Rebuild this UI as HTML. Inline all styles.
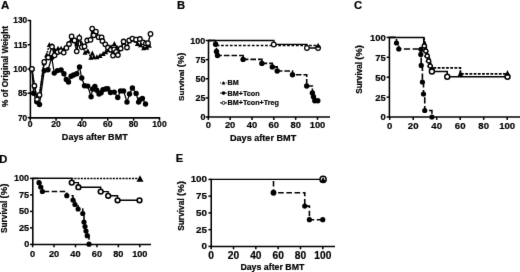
<!DOCTYPE html>
<html><head><meta charset="utf-8"><title>Figure</title>
<style>
html,body{margin:0;padding:0;background:#fff;}
body{width:520px;height:272px;overflow:hidden;font-family:"Liberation Sans",sans-serif;}
svg{display:block;}
</style></head>
<body>
<svg width="520" height="272" viewBox="0 0 520 272">
<defs><filter id="bl" x="0" y="0" width="520" height="272" filterUnits="userSpaceOnUse" color-interpolation-filters="sRGB"><feConvolveMatrix order="3" kernelMatrix="0.0052 0.0619 0.0052 0.0619 0.7314 0.0619 0.0052 0.0619 0.0052" divisor="1" edgeMode="duplicate" preserveAlpha="true"/></filter></defs>
<g filter="url(#bl)">
<rect x="-5" y="-5" width="530" height="282" fill="#fff"/>
<text x="1.0" y="9.2" font-size="11.5" text-anchor="start" font-family="Liberation Sans, sans-serif" font-weight="bold" stroke="#000" stroke-width="0.2">A</text>
<line x1="30.4" y1="19.9" x2="30.4" y2="118.6" stroke="#000" stroke-width="1.55"/>
<line x1="29.65" y1="117.85" x2="160.2" y2="117.85" stroke="#000" stroke-width="1.55"/>
<line x1="27.599999999999998" y1="20.5" x2="30.4" y2="20.5" stroke="#000" stroke-width="1.5"/>
<text x="27.2" y="23.49" font-size="8.3" text-anchor="end" font-family="Liberation Sans, sans-serif" font-weight="bold" stroke="#000" stroke-width="0.2">130</text>
<line x1="27.599999999999998" y1="44.75" x2="30.4" y2="44.75" stroke="#000" stroke-width="1.5"/>
<text x="27.2" y="47.74" font-size="8.3" text-anchor="end" font-family="Liberation Sans, sans-serif" font-weight="bold" stroke="#000" stroke-width="0.2">115</text>
<line x1="27.599999999999998" y1="69" x2="30.4" y2="69" stroke="#000" stroke-width="1.5"/>
<text x="27.2" y="71.99" font-size="8.3" text-anchor="end" font-family="Liberation Sans, sans-serif" font-weight="bold" stroke="#000" stroke-width="0.2">100</text>
<line x1="27.599999999999998" y1="93.25" x2="30.4" y2="93.25" stroke="#000" stroke-width="1.5"/>
<text x="27.2" y="96.24" font-size="8.3" text-anchor="end" font-family="Liberation Sans, sans-serif" font-weight="bold" stroke="#000" stroke-width="0.2">85</text>
<line x1="27.599999999999998" y1="117.6" x2="30.4" y2="117.6" stroke="#000" stroke-width="1.5"/>
<text x="27.2" y="120.59" font-size="8.3" text-anchor="end" font-family="Liberation Sans, sans-serif" font-weight="bold" stroke="#000" stroke-width="0.2">70</text>
<line x1="30.2" y1="117.85" x2="30.2" y2="120.74999999999999" stroke="#000" stroke-width="1.5"/>
<text x="30.2" y="127.1" font-size="8.6" text-anchor="middle" font-family="Liberation Sans, sans-serif" font-weight="bold" stroke="#000" stroke-width="0.2">0</text>
<line x1="56.06" y1="117.85" x2="56.06" y2="120.74999999999999" stroke="#000" stroke-width="1.5"/>
<text x="56.06" y="127.1" font-size="8.6" text-anchor="middle" font-family="Liberation Sans, sans-serif" font-weight="bold" stroke="#000" stroke-width="0.2">20</text>
<line x1="81.92" y1="117.85" x2="81.92" y2="120.74999999999999" stroke="#000" stroke-width="1.5"/>
<text x="81.92" y="127.1" font-size="8.6" text-anchor="middle" font-family="Liberation Sans, sans-serif" font-weight="bold" stroke="#000" stroke-width="0.2">40</text>
<line x1="107.78" y1="117.85" x2="107.78" y2="120.74999999999999" stroke="#000" stroke-width="1.5"/>
<text x="107.78" y="127.1" font-size="8.6" text-anchor="middle" font-family="Liberation Sans, sans-serif" font-weight="bold" stroke="#000" stroke-width="0.2">60</text>
<line x1="133.64" y1="117.85" x2="133.64" y2="120.74999999999999" stroke="#000" stroke-width="1.5"/>
<text x="133.64" y="127.1" font-size="8.6" text-anchor="middle" font-family="Liberation Sans, sans-serif" font-weight="bold" stroke="#000" stroke-width="0.2">80</text>
<line x1="159.5" y1="117.85" x2="159.5" y2="120.74999999999999" stroke="#000" stroke-width="1.5"/>
<text x="159.5" y="127.1" font-size="8.6" text-anchor="middle" font-family="Liberation Sans, sans-serif" font-weight="bold" stroke="#000" stroke-width="0.2">100</text>
<text x="94.8" y="140.2" font-size="9.05" text-anchor="middle" font-family="Liberation Sans, sans-serif" font-weight="bold" stroke="#000" stroke-width="0.2">Days after BMT</text>
<text x="8.3" y="66.5" font-size="8.3" text-anchor="middle" font-family="Liberation Sans, sans-serif" font-weight="bold" transform="rotate(-90 8.3 66.5)" stroke="#000" stroke-width="0.2">% of Original Weight</text>
<path d="M31.90,69.00 L34.50,86.00 L37.00,99.00 L39.50,95.00 L44.00,63.00 L46.60,55.00 L49.30,44.80 L52.00,45.50 L54.90,50.30 L58.00,48.50 L61.10,48.50 L63.60,50.00 L66.50,47.00 L69.00,44.00 L71.50,40.00 L74.50,41.00 L76.80,44.00 L79.30,36.20 L82.00,44.00 L85.00,52.50 L87.80,51.00 L90.80,57.60 L92.30,53.20 L93.80,57.00 L96.90,57.00 L100.00,55.70 L103.10,53.80 L105.70,52.00 L108.50,50.00 L111.00,47.00 L114.40,43.80 L117.00,47.50 L120.70,48.50 L123.60,42.50 L127.00,47.30 L129.25,41.00 L132.40,39.60 L136.00,40.60 L137.40,43.80 L140.50,45.00 L143.60,48.00 L146.75,47.50 L149.30,45.60" fill="none" stroke="#000" stroke-width="1.5" stroke-dasharray="1.8 1.0" stroke-linejoin="miter"/>
<path d="M31.90,69.00 L33.60,93.25 L36.75,101.75 L39.50,104.50 L44.25,70.60 L48.00,69.75 L51.75,57.50 L54.25,73.10 L57.40,70.60 L61.10,70.00 L63.90,73.75 L66.30,79.50 L68.50,82.00 L71.10,76.25 L73.60,75.00 L76.75,73.75 L79.50,66.90 L81.75,78.00 L84.50,85.75 L87.75,86.10 L91.10,96.75 L92.60,89.00 L94.90,86.50 L96.75,90.25 L99.00,94.00 L101.10,92.75 L103.00,89.60 L105.50,89.00 L107.75,88.75 L110.50,92.50 L114.25,92.10 L117.75,97.50 L120.50,90.90 L123.60,90.90 L127.00,102.10 L129.50,94.00 L132.40,88.00 L136.10,93.40 L138.60,102.10 L140.25,99.60 L142.40,98.40 L145.50,104.00" fill="none" stroke="#000" stroke-width="1.25" stroke-linejoin="miter"/>
<path d="M31.90,68.90 L34.40,85.75 L37.00,99.25 L39.50,94.90 L44.25,61.90 L48.25,57.50 L52.00,46.75 L54.60,55.30 L57.60,52.00 L60.75,51.00 L63.70,52.60 L66.40,47.90 L69.00,44.00 L71.60,36.40 L74.50,40.40 L76.70,51.30 L79.30,37.90 L81.75,47.10 L84.50,46.40 L87.20,40.50 L90.50,39.80 L92.20,28.70 L93.80,35.25 L95.90,31.70 L98.60,37.20 L101.60,37.30 L102.40,41.00 L105.30,44.30 L107.90,47.50 L110.80,49.75 L113.00,55.60 L114.10,49.40 L116.10,51.90 L117.90,55.00 L120.70,48.50 L123.60,41.50 L127.00,47.50 L129.25,40.40 L132.40,38.60 L136.00,39.70 L139.90,39.00 L143.00,42.30 L145.90,43.40 L148.00,43.20 L150.50,33.90" fill="none" stroke="#000" stroke-width="1.4" stroke-linejoin="miter"/>
<path d="M29.40,71.25 L34.40,71.25 L31.90,66.25 Z" fill="#000"/>
<path d="M32.00,88.25 L37.00,88.25 L34.50,83.25 Z" fill="#000"/>
<path d="M34.50,101.25 L39.50,101.25 L37.00,96.25 Z" fill="#000"/>
<path d="M37.00,97.25 L42.00,97.25 L39.50,92.25 Z" fill="#000"/>
<path d="M41.50,65.25 L46.50,65.25 L44.00,60.25 Z" fill="#000"/>
<path d="M44.10,57.25 L49.10,57.25 L46.60,52.25 Z" fill="#000"/>
<path d="M46.80,47.05 L51.80,47.05 L49.30,42.05 Z" fill="#000"/>
<path d="M49.50,47.75 L54.50,47.75 L52.00,42.75 Z" fill="#000"/>
<path d="M52.40,52.55 L57.40,52.55 L54.90,47.55 Z" fill="#000"/>
<path d="M55.50,50.75 L60.50,50.75 L58.00,45.75 Z" fill="#000"/>
<path d="M58.60,50.75 L63.60,50.75 L61.10,45.75 Z" fill="#000"/>
<path d="M61.10,52.25 L66.10,52.25 L63.60,47.25 Z" fill="#000"/>
<path d="M64.00,49.25 L69.00,49.25 L66.50,44.25 Z" fill="#000"/>
<path d="M66.50,46.25 L71.50,46.25 L69.00,41.25 Z" fill="#000"/>
<path d="M69.00,42.25 L74.00,42.25 L71.50,37.25 Z" fill="#000"/>
<path d="M72.00,43.25 L77.00,43.25 L74.50,38.25 Z" fill="#000"/>
<path d="M74.30,46.25 L79.30,46.25 L76.80,41.25 Z" fill="#000"/>
<path d="M76.80,38.45 L81.80,38.45 L79.30,33.45 Z" fill="#000"/>
<path d="M79.50,46.25 L84.50,46.25 L82.00,41.25 Z" fill="#000"/>
<path d="M82.50,54.75 L87.50,54.75 L85.00,49.75 Z" fill="#000"/>
<path d="M85.30,53.25 L90.30,53.25 L87.80,48.25 Z" fill="#000"/>
<path d="M88.30,59.85 L93.30,59.85 L90.80,54.85 Z" fill="#000"/>
<path d="M89.80,55.45 L94.80,55.45 L92.30,50.45 Z" fill="#000"/>
<path d="M91.30,59.25 L96.30,59.25 L93.80,54.25 Z" fill="#000"/>
<path d="M94.40,59.25 L99.40,59.25 L96.90,54.25 Z" fill="#000"/>
<path d="M97.50,57.95 L102.50,57.95 L100.00,52.95 Z" fill="#000"/>
<path d="M100.60,56.05 L105.60,56.05 L103.10,51.05 Z" fill="#000"/>
<path d="M103.20,54.25 L108.20,54.25 L105.70,49.25 Z" fill="#000"/>
<path d="M106.00,52.25 L111.00,52.25 L108.50,47.25 Z" fill="#000"/>
<path d="M108.50,49.25 L113.50,49.25 L111.00,44.25 Z" fill="#000"/>
<path d="M111.90,46.05 L116.90,46.05 L114.40,41.05 Z" fill="#000"/>
<path d="M114.50,49.75 L119.50,49.75 L117.00,44.75 Z" fill="#000"/>
<path d="M118.20,50.75 L123.20,50.75 L120.70,45.75 Z" fill="#000"/>
<path d="M121.10,44.75 L126.10,44.75 L123.60,39.75 Z" fill="#000"/>
<path d="M124.50,49.55 L129.50,49.55 L127.00,44.55 Z" fill="#000"/>
<path d="M126.75,43.25 L131.75,43.25 L129.25,38.25 Z" fill="#000"/>
<path d="M129.90,41.85 L134.90,41.85 L132.40,36.85 Z" fill="#000"/>
<path d="M133.50,42.85 L138.50,42.85 L136.00,37.85 Z" fill="#000"/>
<path d="M134.90,46.05 L139.90,46.05 L137.40,41.05 Z" fill="#000"/>
<path d="M138.00,47.25 L143.00,47.25 L140.50,42.25 Z" fill="#000"/>
<path d="M141.10,50.25 L146.10,50.25 L143.60,45.25 Z" fill="#000"/>
<path d="M144.25,49.75 L149.25,49.75 L146.75,44.75 Z" fill="#000"/>
<path d="M146.80,47.85 L151.80,47.85 L149.30,42.85 Z" fill="#000"/>
<circle cx="31.90" cy="69.00" r="2.7" fill="#000"/>
<circle cx="33.60" cy="93.25" r="2.7" fill="#000"/>
<circle cx="36.75" cy="101.75" r="2.7" fill="#000"/>
<circle cx="39.50" cy="104.50" r="2.7" fill="#000"/>
<circle cx="44.25" cy="70.60" r="2.7" fill="#000"/>
<circle cx="48.00" cy="69.75" r="2.7" fill="#000"/>
<circle cx="51.75" cy="57.50" r="2.7" fill="#000"/>
<circle cx="54.25" cy="73.10" r="2.7" fill="#000"/>
<circle cx="57.40" cy="70.60" r="2.7" fill="#000"/>
<circle cx="61.10" cy="70.00" r="2.7" fill="#000"/>
<circle cx="63.90" cy="73.75" r="2.7" fill="#000"/>
<circle cx="66.30" cy="79.50" r="2.7" fill="#000"/>
<circle cx="68.50" cy="82.00" r="2.7" fill="#000"/>
<circle cx="71.10" cy="76.25" r="2.7" fill="#000"/>
<circle cx="73.60" cy="75.00" r="2.7" fill="#000"/>
<circle cx="76.75" cy="73.75" r="2.7" fill="#000"/>
<circle cx="79.50" cy="66.90" r="2.7" fill="#000"/>
<circle cx="81.75" cy="78.00" r="2.7" fill="#000"/>
<circle cx="84.50" cy="85.75" r="2.7" fill="#000"/>
<circle cx="87.75" cy="86.10" r="2.7" fill="#000"/>
<circle cx="91.10" cy="96.75" r="2.7" fill="#000"/>
<circle cx="92.60" cy="89.00" r="2.7" fill="#000"/>
<circle cx="94.90" cy="86.50" r="2.7" fill="#000"/>
<circle cx="96.75" cy="90.25" r="2.7" fill="#000"/>
<circle cx="99.00" cy="94.00" r="2.7" fill="#000"/>
<circle cx="101.10" cy="92.75" r="2.7" fill="#000"/>
<circle cx="103.00" cy="89.60" r="2.7" fill="#000"/>
<circle cx="105.50" cy="89.00" r="2.7" fill="#000"/>
<circle cx="107.75" cy="88.75" r="2.7" fill="#000"/>
<circle cx="110.50" cy="92.50" r="2.7" fill="#000"/>
<circle cx="114.25" cy="92.10" r="2.7" fill="#000"/>
<circle cx="117.75" cy="97.50" r="2.7" fill="#000"/>
<circle cx="120.50" cy="90.90" r="2.7" fill="#000"/>
<circle cx="123.60" cy="90.90" r="2.7" fill="#000"/>
<circle cx="127.00" cy="102.10" r="2.7" fill="#000"/>
<circle cx="129.50" cy="94.00" r="2.7" fill="#000"/>
<circle cx="132.40" cy="88.00" r="2.7" fill="#000"/>
<circle cx="136.10" cy="93.40" r="2.7" fill="#000"/>
<circle cx="138.60" cy="102.10" r="2.7" fill="#000"/>
<circle cx="140.25" cy="99.60" r="2.7" fill="#000"/>
<circle cx="142.40" cy="98.40" r="2.7" fill="#000"/>
<circle cx="145.50" cy="104.00" r="2.7" fill="#000"/>
<circle cx="31.90" cy="68.90" r="2.25" fill="#fff" stroke="#000" stroke-width="1.3"/>
<circle cx="34.40" cy="85.75" r="2.25" fill="#fff" stroke="#000" stroke-width="1.3"/>
<circle cx="37.00" cy="99.25" r="2.25" fill="#fff" stroke="#000" stroke-width="1.3"/>
<circle cx="39.50" cy="94.90" r="2.25" fill="#fff" stroke="#000" stroke-width="1.3"/>
<circle cx="44.25" cy="61.90" r="2.25" fill="#fff" stroke="#000" stroke-width="1.3"/>
<circle cx="48.25" cy="57.50" r="2.25" fill="#fff" stroke="#000" stroke-width="1.3"/>
<circle cx="52.00" cy="46.75" r="2.25" fill="#fff" stroke="#000" stroke-width="1.3"/>
<circle cx="54.60" cy="55.30" r="2.25" fill="#fff" stroke="#000" stroke-width="1.3"/>
<circle cx="57.60" cy="52.00" r="2.25" fill="#fff" stroke="#000" stroke-width="1.3"/>
<circle cx="60.75" cy="51.00" r="2.25" fill="#fff" stroke="#000" stroke-width="1.3"/>
<circle cx="63.70" cy="52.60" r="2.25" fill="#fff" stroke="#000" stroke-width="1.3"/>
<circle cx="66.40" cy="47.90" r="2.25" fill="#fff" stroke="#000" stroke-width="1.3"/>
<circle cx="69.00" cy="44.00" r="2.25" fill="#fff" stroke="#000" stroke-width="1.3"/>
<circle cx="71.60" cy="36.40" r="2.25" fill="#fff" stroke="#000" stroke-width="1.3"/>
<circle cx="74.50" cy="40.40" r="2.25" fill="#fff" stroke="#000" stroke-width="1.3"/>
<circle cx="76.70" cy="51.30" r="2.25" fill="#fff" stroke="#000" stroke-width="1.3"/>
<circle cx="79.30" cy="37.90" r="2.25" fill="#fff" stroke="#000" stroke-width="1.3"/>
<circle cx="81.75" cy="47.10" r="2.25" fill="#fff" stroke="#000" stroke-width="1.3"/>
<circle cx="84.50" cy="46.40" r="2.25" fill="#fff" stroke="#000" stroke-width="1.3"/>
<circle cx="87.20" cy="40.50" r="2.25" fill="#fff" stroke="#000" stroke-width="1.3"/>
<circle cx="90.50" cy="39.80" r="2.25" fill="#fff" stroke="#000" stroke-width="1.3"/>
<circle cx="92.20" cy="28.70" r="2.25" fill="#fff" stroke="#000" stroke-width="1.3"/>
<circle cx="95.90" cy="31.70" r="2.25" fill="#fff" stroke="#000" stroke-width="1.3"/>
<circle cx="93.80" cy="35.25" r="2.25" fill="#fff" stroke="#000" stroke-width="1.3"/>
<circle cx="98.60" cy="37.20" r="2.25" fill="#fff" stroke="#000" stroke-width="1.3"/>
<circle cx="101.60" cy="37.30" r="2.25" fill="#fff" stroke="#000" stroke-width="1.3"/>
<circle cx="102.40" cy="41.00" r="2.25" fill="#fff" stroke="#000" stroke-width="1.3"/>
<circle cx="105.30" cy="44.30" r="2.25" fill="#fff" stroke="#000" stroke-width="1.3"/>
<circle cx="107.90" cy="47.50" r="2.25" fill="#fff" stroke="#000" stroke-width="1.3"/>
<circle cx="110.80" cy="49.75" r="2.25" fill="#fff" stroke="#000" stroke-width="1.3"/>
<circle cx="114.10" cy="49.40" r="2.25" fill="#fff" stroke="#000" stroke-width="1.3"/>
<circle cx="113.00" cy="55.60" r="2.25" fill="#fff" stroke="#000" stroke-width="1.3"/>
<circle cx="116.10" cy="51.90" r="2.25" fill="#fff" stroke="#000" stroke-width="1.3"/>
<circle cx="117.90" cy="55.00" r="2.25" fill="#fff" stroke="#000" stroke-width="1.3"/>
<circle cx="120.70" cy="48.50" r="2.25" fill="#fff" stroke="#000" stroke-width="1.3"/>
<circle cx="123.60" cy="41.50" r="2.25" fill="#fff" stroke="#000" stroke-width="1.3"/>
<circle cx="127.00" cy="47.50" r="2.25" fill="#fff" stroke="#000" stroke-width="1.3"/>
<circle cx="129.25" cy="40.40" r="2.25" fill="#fff" stroke="#000" stroke-width="1.3"/>
<circle cx="132.40" cy="38.60" r="2.25" fill="#fff" stroke="#000" stroke-width="1.3"/>
<circle cx="136.00" cy="39.70" r="2.25" fill="#fff" stroke="#000" stroke-width="1.3"/>
<circle cx="139.90" cy="39.00" r="2.25" fill="#fff" stroke="#000" stroke-width="1.3"/>
<circle cx="143.00" cy="42.30" r="2.25" fill="#fff" stroke="#000" stroke-width="1.3"/>
<circle cx="145.90" cy="43.40" r="2.25" fill="#fff" stroke="#000" stroke-width="1.3"/>
<circle cx="148.00" cy="43.20" r="2.25" fill="#fff" stroke="#000" stroke-width="1.3"/>
<circle cx="150.50" cy="33.90" r="2.25" fill="#fff" stroke="#000" stroke-width="1.3"/>
<text x="176.9" y="8.5" font-size="11.2" text-anchor="start" font-family="Liberation Sans, sans-serif" font-weight="bold" stroke="#000" stroke-width="0.2">B</text>
<line x1="208.5" y1="39.9" x2="208.5" y2="117.75" stroke="#000" stroke-width="1.55"/>
<line x1="207.75" y1="117" x2="330" y2="117" stroke="#000" stroke-width="1.55"/>
<line x1="205.7" y1="40.5" x2="208.5" y2="40.5" stroke="#000" stroke-width="1.5"/>
<text x="205.4" y="43.74" font-size="9" text-anchor="end" font-family="Liberation Sans, sans-serif" font-weight="bold" stroke="#000" stroke-width="0.2">100</text>
<line x1="205.7" y1="59.6" x2="208.5" y2="59.6" stroke="#000" stroke-width="1.5"/>
<text x="205.4" y="62.84" font-size="9" text-anchor="end" font-family="Liberation Sans, sans-serif" font-weight="bold" stroke="#000" stroke-width="0.2">75</text>
<line x1="205.7" y1="78.75" x2="208.5" y2="78.75" stroke="#000" stroke-width="1.5"/>
<text x="205.4" y="81.99" font-size="9" text-anchor="end" font-family="Liberation Sans, sans-serif" font-weight="bold" stroke="#000" stroke-width="0.2">50</text>
<line x1="205.7" y1="97.9" x2="208.5" y2="97.9" stroke="#000" stroke-width="1.5"/>
<text x="205.4" y="101.14" font-size="9" text-anchor="end" font-family="Liberation Sans, sans-serif" font-weight="bold" stroke="#000" stroke-width="0.2">25</text>
<line x1="205.7" y1="117" x2="208.5" y2="117" stroke="#000" stroke-width="1.5"/>
<text x="205.4" y="120.24" font-size="9" text-anchor="end" font-family="Liberation Sans, sans-serif" font-weight="bold" stroke="#000" stroke-width="0.2">0</text>
<line x1="208.3" y1="117" x2="208.3" y2="119.89999999999999" stroke="#000" stroke-width="1.5"/>
<text x="208.3" y="128.1" font-size="9.4" text-anchor="middle" font-family="Liberation Sans, sans-serif" font-weight="bold" stroke="#000" stroke-width="0.2">0</text>
<line x1="230.14000000000001" y1="117" x2="230.14000000000001" y2="119.89999999999999" stroke="#000" stroke-width="1.5"/>
<text x="230.14" y="128.1" font-size="9.4" text-anchor="middle" font-family="Liberation Sans, sans-serif" font-weight="bold" stroke="#000" stroke-width="0.2">20</text>
<line x1="251.98000000000002" y1="117" x2="251.98000000000002" y2="119.89999999999999" stroke="#000" stroke-width="1.5"/>
<text x="251.98" y="128.1" font-size="9.4" text-anchor="middle" font-family="Liberation Sans, sans-serif" font-weight="bold" stroke="#000" stroke-width="0.2">40</text>
<line x1="273.82" y1="117" x2="273.82" y2="119.89999999999999" stroke="#000" stroke-width="1.5"/>
<text x="273.82" y="128.1" font-size="9.4" text-anchor="middle" font-family="Liberation Sans, sans-serif" font-weight="bold" stroke="#000" stroke-width="0.2">60</text>
<line x1="295.66" y1="117" x2="295.66" y2="119.89999999999999" stroke="#000" stroke-width="1.5"/>
<text x="295.66" y="128.1" font-size="9.4" text-anchor="middle" font-family="Liberation Sans, sans-serif" font-weight="bold" stroke="#000" stroke-width="0.2">80</text>
<line x1="317.5" y1="117" x2="317.5" y2="119.89999999999999" stroke="#000" stroke-width="1.5"/>
<text x="317.5" y="128.1" font-size="9.4" text-anchor="middle" font-family="Liberation Sans, sans-serif" font-weight="bold" stroke="#000" stroke-width="0.2">100</text>
<text x="263.1" y="140.5" font-size="9.1" text-anchor="middle" font-family="Liberation Sans, sans-serif" font-weight="bold" stroke="#000" stroke-width="0.2">Days after BMT</text>
<text x="184.2" y="76.8" font-size="8.1" text-anchor="middle" font-family="Liberation Sans, sans-serif" font-weight="bold" transform="rotate(-90 184.2 76.8)" stroke="#000" stroke-width="0.2">Survival <tspan font-size="9.3">(%)</tspan></text>
<path d="M208.50,40.50 L215.60,40.50 L215.60,45.50 L318.00,45.50" fill="none" stroke="#000" stroke-width="1.7" stroke-dasharray="2.7 1.7" stroke-linejoin="miter"/>
<path d="M208.50,40.50 L273.90,40.50 L273.90,44.40 L306.90,44.40 L306.90,48.00 L318.10,48.00" fill="none" stroke="#000" stroke-width="1.4" stroke-linejoin="miter"/>
<path d="M208.50,40.50 L215.60,40.50 L215.60,44.25 L216.50,44.25 L216.50,51.50 L217.50,51.50 L217.50,55.50 L243.10,55.50 L243.10,59.40 L261.90,59.40 L261.90,63.40 L272.30,63.40 L272.30,66.90 L277.20,66.90 L277.20,71.00 L292.50,71.00 L292.50,74.75 L306.70,74.75 L306.70,86.00 L312.40,86.00 L312.40,93.00 L313.50,93.00 L313.50,96.70 L314.80,96.70 L314.80,100.75 L317.80,100.75" fill="none" stroke="#000" stroke-width="1.6" stroke-dasharray="5.6 2" stroke-linejoin="miter"/>
<circle cx="215.60" cy="44.25" r="2.7" fill="#000"/>
<circle cx="216.50" cy="51.50" r="2.7" fill="#000"/>
<circle cx="217.50" cy="55.50" r="2.7" fill="#000"/>
<circle cx="243.10" cy="59.40" r="2.7" fill="#000"/>
<circle cx="261.90" cy="63.40" r="2.7" fill="#000"/>
<circle cx="272.30" cy="66.90" r="2.7" fill="#000"/>
<circle cx="277.20" cy="71.00" r="2.7" fill="#000"/>
<circle cx="292.50" cy="74.75" r="2.7" fill="#000"/>
<circle cx="306.70" cy="86.00" r="2.7" fill="#000"/>
<circle cx="312.40" cy="93.00" r="2.7" fill="#000"/>
<circle cx="313.50" cy="96.70" r="2.7" fill="#000"/>
<circle cx="314.80" cy="100.75" r="2.7" fill="#000"/>
<circle cx="317.80" cy="100.75" r="2.7" fill="#000"/>
<circle cx="273.75" cy="44.50" r="2.3" fill="#fff" stroke="#000" stroke-width="1.2"/>
<circle cx="306.90" cy="48.00" r="2.3" fill="#fff" stroke="#000" stroke-width="1.2"/>
<circle cx="318.10" cy="48.00" r="2.3" fill="#fff" stroke="#000" stroke-width="1.2"/>
<path d="M315.60,47.85 L320.60,47.85 L318.10,42.85 Z" fill="#000"/>
<text x="227.6" y="85.4" font-size="7.2" text-anchor="start" font-family="Liberation Sans, sans-serif" font-weight="bold" stroke="#000" stroke-width="0.2">BM</text>
<line x1="220" y1="82.9" x2="227" y2="82.9" stroke="#000" stroke-width="0.9" stroke-dasharray="1 0.9"/>
<path d="M221.70,84.52 L225.30,84.52 L223.50,80.92 Z" fill="#000"/>
<text x="227.6" y="95.6" font-size="7.2" text-anchor="start" font-family="Liberation Sans, sans-serif" font-weight="bold" stroke="#000" stroke-width="0.2">BM+Tcon</text>
<line x1="220" y1="93.1" x2="227" y2="93.1" stroke="#000" stroke-width="0.9"/>
<circle cx="223.50" cy="93.10" r="1.8" fill="#000"/>
<text x="227.6" y="105.4" font-size="7.2" text-anchor="start" font-family="Liberation Sans, sans-serif" font-weight="bold" stroke="#000" stroke-width="0.2">BM+Tcon+Treg</text>
<line x1="220" y1="102.9" x2="227" y2="102.9" stroke="#000" stroke-width="0.9"/>
<circle cx="223.50" cy="102.90" r="1.5" fill="#fff" stroke="#000" stroke-width="0.9"/>
<text x="354.0" y="8.5" font-size="11.2" text-anchor="start" font-family="Liberation Sans, sans-serif" font-weight="bold" stroke="#000" stroke-width="0.2">C</text>
<line x1="389.4" y1="36.8" x2="389.4" y2="117.75" stroke="#000" stroke-width="1.55"/>
<line x1="388.65" y1="117" x2="520" y2="117" stroke="#000" stroke-width="1.55"/>
<line x1="386.59999999999997" y1="37.4" x2="389.4" y2="37.4" stroke="#000" stroke-width="1.5"/>
<text x="385.8" y="40.82" font-size="9.5" text-anchor="end" font-family="Liberation Sans, sans-serif" font-weight="bold" stroke="#000" stroke-width="0.2">100</text>
<line x1="386.59999999999997" y1="57.3" x2="389.4" y2="57.3" stroke="#000" stroke-width="1.5"/>
<text x="385.8" y="60.72" font-size="9.5" text-anchor="end" font-family="Liberation Sans, sans-serif" font-weight="bold" stroke="#000" stroke-width="0.2">75</text>
<line x1="386.59999999999997" y1="77.2" x2="389.4" y2="77.2" stroke="#000" stroke-width="1.5"/>
<text x="385.8" y="80.62" font-size="9.5" text-anchor="end" font-family="Liberation Sans, sans-serif" font-weight="bold" stroke="#000" stroke-width="0.2">50</text>
<line x1="386.59999999999997" y1="97.1" x2="389.4" y2="97.1" stroke="#000" stroke-width="1.5"/>
<text x="385.8" y="100.52" font-size="9.5" text-anchor="end" font-family="Liberation Sans, sans-serif" font-weight="bold" stroke="#000" stroke-width="0.2">25</text>
<line x1="386.59999999999997" y1="117" x2="389.4" y2="117" stroke="#000" stroke-width="1.5"/>
<text x="385.8" y="120.42" font-size="9.5" text-anchor="end" font-family="Liberation Sans, sans-serif" font-weight="bold" stroke="#000" stroke-width="0.2">0</text>
<line x1="389.7" y1="117" x2="389.7" y2="119.89999999999999" stroke="#000" stroke-width="1.5"/>
<text x="389.7" y="128.6" font-size="9.6" text-anchor="middle" font-family="Liberation Sans, sans-serif" font-weight="bold" stroke="#000" stroke-width="0.2">0</text>
<line x1="413.2" y1="117" x2="413.2" y2="119.89999999999999" stroke="#000" stroke-width="1.5"/>
<text x="413.2" y="128.6" font-size="9.6" text-anchor="middle" font-family="Liberation Sans, sans-serif" font-weight="bold" stroke="#000" stroke-width="0.2">20</text>
<line x1="436.7" y1="117" x2="436.7" y2="119.89999999999999" stroke="#000" stroke-width="1.5"/>
<text x="436.7" y="128.6" font-size="9.6" text-anchor="middle" font-family="Liberation Sans, sans-serif" font-weight="bold" stroke="#000" stroke-width="0.2">40</text>
<line x1="460.2" y1="117" x2="460.2" y2="119.89999999999999" stroke="#000" stroke-width="1.5"/>
<text x="460.2" y="128.6" font-size="9.6" text-anchor="middle" font-family="Liberation Sans, sans-serif" font-weight="bold" stroke="#000" stroke-width="0.2">60</text>
<line x1="483.7" y1="117" x2="483.7" y2="119.89999999999999" stroke="#000" stroke-width="1.5"/>
<text x="483.7" y="128.6" font-size="9.6" text-anchor="middle" font-family="Liberation Sans, sans-serif" font-weight="bold" stroke="#000" stroke-width="0.2">80</text>
<line x1="507.2" y1="117" x2="507.2" y2="119.89999999999999" stroke="#000" stroke-width="1.5"/>
<text x="507.2" y="128.6" font-size="9.6" text-anchor="middle" font-family="Liberation Sans, sans-serif" font-weight="bold" stroke="#000" stroke-width="0.2">100</text>
<text x="361.6" y="69.5" font-size="8.2" text-anchor="middle" font-family="Liberation Sans, sans-serif" font-weight="bold" transform="rotate(-90 361.6 69.5)" stroke="#000" stroke-width="0.2">Survival <tspan font-size="9.3">(%)</tspan></text>
<path d="M389.40,37.40 L423.75,37.40 L423.75,46.00 L424.30,46.00 L425.80,46.00 L425.80,51.00 L427.20,51.00 L427.20,56.00 L428.70,56.00 L428.70,61.00 L430.20,61.00 L430.20,66.00 L431.90,66.00 L431.90,71.40 L447.25,71.40 L447.25,76.80 L507.50,76.80" fill="none" stroke="#000" stroke-width="1.55" stroke-linejoin="miter"/>
<path d="M423.75,37.40 L425.30,44.50 L426.90,49.50 L428.30,54.50 L429.80,59.50 L431.30,67.90 L460.40,67.90 L460.40,73.90 L507.50,73.90" fill="none" stroke="#000" stroke-width="1.75" stroke-dasharray="2.8 1.4" stroke-linejoin="miter"/>
<path d="M389.40,37.40 L396.50,37.40 L396.50,43.00 L398.75,43.00 L398.75,49.00 L421.00,49.00 L421.00,49.30 L420.80,49.30 L420.80,54.40 L421.20,54.40 L421.20,65.40 L422.40,65.40 L422.40,82.00 L423.50,82.00 L423.50,94.00 L424.75,94.00 L424.75,110.50 L431.90,110.50 L431.90,117.00" fill="none" stroke="#000" stroke-width="1.6" stroke-dasharray="6.2 2.5" stroke-linejoin="miter"/>
<circle cx="396.50" cy="43.00" r="2.6" fill="#000"/>
<circle cx="398.75" cy="49.00" r="2.6" fill="#000"/>
<circle cx="421.00" cy="49.30" r="2.6" fill="#000"/>
<circle cx="420.80" cy="54.40" r="2.6" fill="#000"/>
<circle cx="421.20" cy="65.40" r="2.6" fill="#000"/>
<circle cx="422.40" cy="82.00" r="2.6" fill="#000"/>
<circle cx="423.50" cy="94.00" r="2.6" fill="#000"/>
<circle cx="424.75" cy="110.50" r="2.6" fill="#000"/>
<circle cx="431.90" cy="117.00" r="2.6" fill="#000"/>
<path d="M421.30,46.20 L427.50,46.20 L424.40,40.20 Z" fill="#000"/>
<path d="M422.50,52.00 L428.70,52.00 L425.60,46.00 Z" fill="#000"/>
<path d="M423.90,57.00 L430.10,57.00 L427.00,51.00 Z" fill="#000"/>
<path d="M425.30,62.00 L431.50,62.00 L428.40,56.00 Z" fill="#000"/>
<path d="M426.90,67.00 L433.10,67.00 L430.00,61.00 Z" fill="#000"/>
<path d="M428.70,70.20 L434.90,70.20 L431.80,64.20 Z" fill="#000"/>
<circle cx="424.30" cy="46.00" r="2.0" fill="#fff" stroke="#000" stroke-width="1.3"/>
<circle cx="425.80" cy="51.00" r="2.0" fill="#fff" stroke="#000" stroke-width="1.3"/>
<circle cx="427.20" cy="56.00" r="2.0" fill="#fff" stroke="#000" stroke-width="1.3"/>
<circle cx="428.70" cy="61.00" r="2.0" fill="#fff" stroke="#000" stroke-width="1.3"/>
<circle cx="430.20" cy="66.00" r="2.0" fill="#fff" stroke="#000" stroke-width="1.3"/>
<circle cx="431.90" cy="71.40" r="2.5" fill="#fff" stroke="#000" stroke-width="1.5"/>
<circle cx="447.25" cy="76.80" r="2.5" fill="#fff" stroke="#000" stroke-width="1.5"/>
<circle cx="507.50" cy="76.80" r="2.5" fill="#fff" stroke="#000" stroke-width="1.5"/>
<path d="M457.80,76.01 L463.00,76.01 L460.40,70.21 Z" fill="#000"/>
<path d="M504.90,75.72 L510.10,75.72 L507.50,70.12 Z" fill="#000"/>
<text x="-0.8" y="162.5" font-size="11.2" text-anchor="start" font-family="Liberation Sans, sans-serif" font-weight="bold" stroke="#000" stroke-width="0.2">D</text>
<line x1="32.8" y1="177.8" x2="32.8" y2="245.15" stroke="#000" stroke-width="1.55"/>
<line x1="32.05" y1="244.4" x2="151" y2="244.4" stroke="#000" stroke-width="1.55"/>
<line x1="29.999999999999996" y1="178.4" x2="32.8" y2="178.4" stroke="#000" stroke-width="1.5"/>
<text x="29.2" y="181.18" font-size="9.1" text-anchor="end" font-family="Liberation Sans, sans-serif" font-weight="bold" stroke="#000" stroke-width="0.2">100</text>
<line x1="29.999999999999996" y1="194.9" x2="32.8" y2="194.9" stroke="#000" stroke-width="1.5"/>
<text x="29.2" y="197.68" font-size="9.1" text-anchor="end" font-family="Liberation Sans, sans-serif" font-weight="bold" stroke="#000" stroke-width="0.2">75</text>
<line x1="29.999999999999996" y1="211.4" x2="32.8" y2="211.4" stroke="#000" stroke-width="1.5"/>
<text x="29.2" y="214.18" font-size="9.1" text-anchor="end" font-family="Liberation Sans, sans-serif" font-weight="bold" stroke="#000" stroke-width="0.2">50</text>
<line x1="29.999999999999996" y1="227.9" x2="32.8" y2="227.9" stroke="#000" stroke-width="1.5"/>
<text x="29.2" y="230.68" font-size="9.1" text-anchor="end" font-family="Liberation Sans, sans-serif" font-weight="bold" stroke="#000" stroke-width="0.2">25</text>
<line x1="29.999999999999996" y1="244.4" x2="32.8" y2="244.4" stroke="#000" stroke-width="1.5"/>
<text x="29.2" y="247.18" font-size="9.1" text-anchor="end" font-family="Liberation Sans, sans-serif" font-weight="bold" stroke="#000" stroke-width="0.2">0</text>
<line x1="32.6" y1="244.4" x2="32.6" y2="247.3" stroke="#000" stroke-width="1.5"/>
<text x="32.6" y="256.6" font-size="9.2" text-anchor="middle" font-family="Liberation Sans, sans-serif" font-weight="bold" stroke="#000" stroke-width="0.2">0</text>
<line x1="54.040000000000006" y1="244.4" x2="54.040000000000006" y2="247.3" stroke="#000" stroke-width="1.5"/>
<text x="54.04" y="256.6" font-size="9.2" text-anchor="middle" font-family="Liberation Sans, sans-serif" font-weight="bold" stroke="#000" stroke-width="0.2">20</text>
<line x1="75.48" y1="244.4" x2="75.48" y2="247.3" stroke="#000" stroke-width="1.5"/>
<text x="75.48" y="256.6" font-size="9.2" text-anchor="middle" font-family="Liberation Sans, sans-serif" font-weight="bold" stroke="#000" stroke-width="0.2">40</text>
<line x1="96.92000000000002" y1="244.4" x2="96.92000000000002" y2="247.3" stroke="#000" stroke-width="1.5"/>
<text x="96.92" y="256.6" font-size="9.2" text-anchor="middle" font-family="Liberation Sans, sans-serif" font-weight="bold" stroke="#000" stroke-width="0.2">60</text>
<line x1="118.36000000000001" y1="244.4" x2="118.36000000000001" y2="247.3" stroke="#000" stroke-width="1.5"/>
<text x="118.36" y="256.6" font-size="9.2" text-anchor="middle" font-family="Liberation Sans, sans-serif" font-weight="bold" stroke="#000" stroke-width="0.2">80</text>
<line x1="139.8" y1="244.4" x2="139.8" y2="247.3" stroke="#000" stroke-width="1.5"/>
<text x="139.8" y="256.6" font-size="9.2" text-anchor="middle" font-family="Liberation Sans, sans-serif" font-weight="bold" stroke="#000" stroke-width="0.2">100</text>
<text x="7.1" y="208.3" font-size="8.3" text-anchor="middle" font-family="Liberation Sans, sans-serif" font-weight="bold" transform="rotate(-90 7.1 208.3)" stroke="#000" stroke-width="0.2">Survival <tspan font-size="9.6">(%)</tspan></text>
<line x1="32.8" y1="178.4" x2="71.2" y2="178.4" stroke="#000" stroke-width="1.4"/>
<line x1="71.2" y1="178.5" x2="137.5" y2="178.5" stroke="#000" stroke-width="1.7" stroke-dasharray="2.1 1.1"/>
<path d="M136.50,181.77 L143.50,181.77 L140.00,175.17 Z" fill="#000"/>
<path d="M32.80,178.40 L71.20,178.40 L71.75,178.40 L71.75,182.60 L78.40,182.60 L78.40,187.20 L100.70,187.20 L100.70,191.60 L108.20,191.60 L108.20,195.80 L117.60,195.80 L117.60,200.30 L139.50,200.30" fill="none" stroke="#000" stroke-width="1.4" stroke-linejoin="miter"/>
<path d="M32.80,178.40 L39.00,178.40 L39.00,182.70 L40.70,182.70 L40.70,187.00 L42.40,187.00 L42.40,191.50 L66.80,191.50 L66.80,195.70 L73.00,195.70 L73.00,200.10 L75.00,200.10 L75.00,204.50 L78.10,204.50 L78.10,209.00 L82.75,209.00 L82.75,213.50 L84.00,213.50 L84.00,222.10 L85.00,222.10 L85.00,226.60 L86.00,226.60 L86.00,231.00 L87.25,231.00 L87.25,235.70 L89.00,235.70 L89.00,244.20" fill="none" stroke="#000" stroke-width="1.5" stroke-dasharray="5.5 2.5" stroke-linejoin="miter"/>
<circle cx="39.00" cy="182.70" r="2.6" fill="#000"/>
<circle cx="40.70" cy="187.00" r="2.6" fill="#000"/>
<circle cx="42.40" cy="191.50" r="2.6" fill="#000"/>
<circle cx="66.80" cy="195.70" r="2.6" fill="#000"/>
<circle cx="73.00" cy="200.10" r="2.6" fill="#000"/>
<circle cx="75.00" cy="204.50" r="2.6" fill="#000"/>
<circle cx="78.10" cy="209.00" r="2.6" fill="#000"/>
<circle cx="82.75" cy="213.50" r="2.6" fill="#000"/>
<circle cx="84.00" cy="222.10" r="2.6" fill="#000"/>
<circle cx="85.00" cy="226.60" r="2.6" fill="#000"/>
<circle cx="86.00" cy="231.00" r="2.6" fill="#000"/>
<circle cx="87.25" cy="235.70" r="2.6" fill="#000"/>
<circle cx="89.00" cy="244.20" r="2.6" fill="#000"/>
<circle cx="71.75" cy="182.60" r="2.35" fill="#fff" stroke="#000" stroke-width="1.65"/>
<circle cx="78.40" cy="187.20" r="2.35" fill="#fff" stroke="#000" stroke-width="1.65"/>
<circle cx="100.70" cy="191.60" r="2.35" fill="#fff" stroke="#000" stroke-width="1.65"/>
<circle cx="108.20" cy="195.80" r="2.35" fill="#fff" stroke="#000" stroke-width="1.65"/>
<circle cx="117.60" cy="200.30" r="2.35" fill="#fff" stroke="#000" stroke-width="1.65"/>
<circle cx="139.50" cy="200.30" r="2.35" fill="#fff" stroke="#000" stroke-width="1.65"/>
<text x="175.7" y="162.3" font-size="11.2" text-anchor="start" font-family="Liberation Sans, sans-serif" font-weight="bold" stroke="#000" stroke-width="0.2">E</text>
<line x1="211.25" y1="178.8" x2="211.25" y2="247.15" stroke="#000" stroke-width="1.55"/>
<line x1="210.5" y1="246.4" x2="335" y2="246.4" stroke="#000" stroke-width="1.55"/>
<line x1="208.45" y1="179.4" x2="211.25" y2="179.4" stroke="#000" stroke-width="1.5"/>
<text x="207" y="182.33" font-size="9.8" text-anchor="end" font-family="Liberation Sans, sans-serif" font-weight="bold" stroke="#000" stroke-width="0.2">100</text>
<line x1="208.45" y1="196.15" x2="211.25" y2="196.15" stroke="#000" stroke-width="1.5"/>
<text x="207" y="199.08" font-size="9.8" text-anchor="end" font-family="Liberation Sans, sans-serif" font-weight="bold" stroke="#000" stroke-width="0.2">75</text>
<line x1="208.45" y1="212.9" x2="211.25" y2="212.9" stroke="#000" stroke-width="1.5"/>
<text x="207" y="215.83" font-size="9.8" text-anchor="end" font-family="Liberation Sans, sans-serif" font-weight="bold" stroke="#000" stroke-width="0.2">50</text>
<line x1="208.45" y1="229.65" x2="211.25" y2="229.65" stroke="#000" stroke-width="1.5"/>
<text x="207" y="232.58" font-size="9.8" text-anchor="end" font-family="Liberation Sans, sans-serif" font-weight="bold" stroke="#000" stroke-width="0.2">25</text>
<line x1="208.45" y1="246.4" x2="211.25" y2="246.4" stroke="#000" stroke-width="1.5"/>
<text x="207" y="249.33" font-size="9.8" text-anchor="end" font-family="Liberation Sans, sans-serif" font-weight="bold" stroke="#000" stroke-width="0.2">0</text>
<line x1="211.2" y1="246.4" x2="211.2" y2="249.3" stroke="#000" stroke-width="1.5"/>
<text x="211.2" y="258.9" font-size="10.2" text-anchor="middle" font-family="Liberation Sans, sans-serif" font-weight="bold" stroke="#000" stroke-width="0.2">0</text>
<line x1="233.51999999999998" y1="246.4" x2="233.51999999999998" y2="249.3" stroke="#000" stroke-width="1.5"/>
<text x="233.52" y="258.9" font-size="10.2" text-anchor="middle" font-family="Liberation Sans, sans-serif" font-weight="bold" stroke="#000" stroke-width="0.2">20</text>
<line x1="255.83999999999997" y1="246.4" x2="255.83999999999997" y2="249.3" stroke="#000" stroke-width="1.5"/>
<text x="255.84" y="258.9" font-size="10.2" text-anchor="middle" font-family="Liberation Sans, sans-serif" font-weight="bold" stroke="#000" stroke-width="0.2">40</text>
<line x1="278.15999999999997" y1="246.4" x2="278.15999999999997" y2="249.3" stroke="#000" stroke-width="1.5"/>
<text x="278.16" y="258.9" font-size="10.2" text-anchor="middle" font-family="Liberation Sans, sans-serif" font-weight="bold" stroke="#000" stroke-width="0.2">60</text>
<line x1="300.48" y1="246.4" x2="300.48" y2="249.3" stroke="#000" stroke-width="1.5"/>
<text x="300.48" y="258.9" font-size="10.2" text-anchor="middle" font-family="Liberation Sans, sans-serif" font-weight="bold" stroke="#000" stroke-width="0.2">80</text>
<line x1="322.79999999999995" y1="246.4" x2="322.79999999999995" y2="249.3" stroke="#000" stroke-width="1.5"/>
<text x="322.8" y="258.9" font-size="10.2" text-anchor="middle" font-family="Liberation Sans, sans-serif" font-weight="bold" stroke="#000" stroke-width="0.2">100</text>
<text x="272.4" y="269.9" font-size="8.8" text-anchor="middle" font-family="Liberation Sans, sans-serif" font-weight="bold" stroke="#000" stroke-width="0.2">Days after BMT</text>
<text x="183.9" y="205.9" font-size="8.4" text-anchor="middle" font-family="Liberation Sans, sans-serif" font-weight="bold" transform="rotate(-90 183.9 205.9)" stroke="#000" stroke-width="0.2">Survival <tspan font-size="9.6">(%)</tspan></text>
<line x1="211.25" y1="179.4" x2="323" y2="179.4" stroke="#000" stroke-width="1.4"/>
<path d="M273.50,181.00 L273.50,192.75 L304.75,192.75 L304.75,206.10 L309.40,206.10 L309.40,219.70 L322.75,219.70" fill="none" stroke="#000" stroke-width="1.6" stroke-dasharray="5.6 2.6" stroke-linejoin="miter"/>
<circle cx="273.50" cy="192.75" r="2.9" fill="#000"/>
<circle cx="304.75" cy="206.10" r="2.6" fill="#000"/>
<circle cx="309.40" cy="219.70" r="2.6" fill="#000"/>
<circle cx="322.75" cy="219.70" r="2.6" fill="#000"/>
<circle cx="323.10" cy="179.40" r="3.05" fill="#fff" stroke="#000" stroke-width="1.5"/>
<path d="M320.30,182.33 L325.90,182.33 L323.10,176.93 Z" fill="#000"/>
</g>
</svg>
</body></html>
